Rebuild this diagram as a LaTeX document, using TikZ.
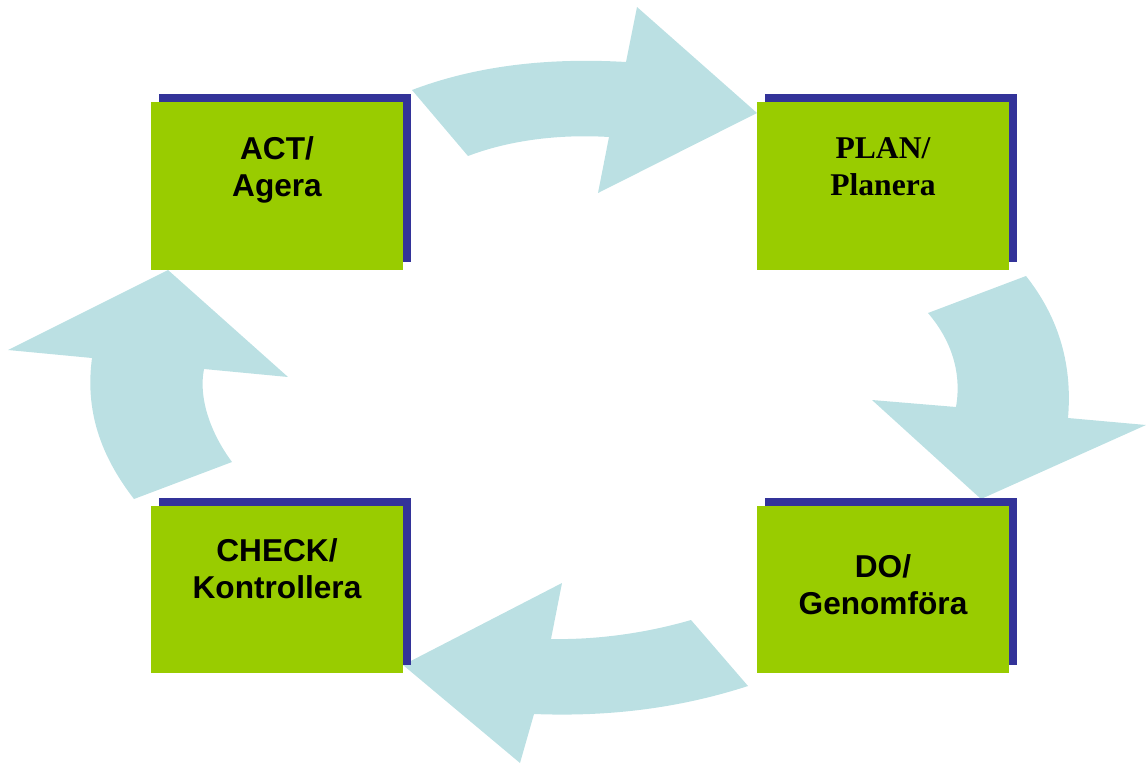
\documentclass[tikz,border=0pt]{standalone}
\usepackage{fontspec}
\setmainfont{Liberation Sans}
\newfontfamily\serifbold{Liberation Serif}
\usepackage{xcolor}
\usetikzlibrary{positioning, shadows}

\definecolor{leafgreen}{RGB}{153,204,0}
\definecolor{shadowblue}{RGB}{51,51,153}
\definecolor{cyclecyan}{RGB}{187,224,227}

\begin{document}
\begin{tikzpicture}[x=0.02cm, y=-0.02cm,
        phase/.style={rectangle, fill=leafgreen, minimum width=5.04cm, minimum height=3.36cm, inner sep=0pt,
            general shadow={fill=shadowblue, shadow xshift=0.16cm, shadow yshift=0.16cm}},
        lbl/.style={align=center, inner sep=0pt, font=\fontsize{18}{21}\selectfont\bfseries},
        turn/.style={fill=cyclecyan, draw=none}]
        \useasboundingbox (0,0) rectangle (1146,764);
        \fill[turn] (412,90) .. controls (470,68) and (540,57) .. (626,62) -- (637,7) -- (757,113) -- (598,193) -- (609,137)
            .. controls (560,134) and (510,140) .. (468,156) -- cycle;
        \fill[turn] (1026,276) .. controls (1056,314) and (1073,360) .. (1068,418) -- (1146,425) -- (981,499) -- (872,400) -- (956,407)
            .. controls (962,372) and (951,340) .. (928,313) -- cycle;
        \fill[turn] (748,686) .. controls (680,708) and (610,717) .. (534,714) -- (520,763) -- (403,665) -- (562,583) -- (551,639)
            .. controls (600,640) and (650,632) .. (691,620) -- cycle;
        \fill[turn] (134,499) .. controls (100,455) and (85,410) .. (92,358) -- (8,350) -- (168,270) -- (288,377) -- (204,369)
            .. controls (198,400) and (212,435) .. (232,462) -- cycle;
        \node[phase] (act) at (277,186) {};
        \node[phase] (plan) at (883,186) {};
        \node[phase] (check) at (277,589.5) {};
        \node[phase] (do) at (883,589.5) {};
        \node[lbl, below=0.7cm of act.north] (actlbl) {ACT/\\Agera};
        \node[lbl, below=0.72cm of plan.north, font=\fontsize{18}{21}\selectfont\serifbold\bfseries] (planlbl) {PLAN/\\Planera};
        \node[lbl, below=0.66cm of check.north] (checklbl) {CHECK/\\Kontrollera};
        \node[lbl, below=0.98cm of do.north] (dolbl) {DO/\\Genomföra};
\end{tikzpicture}
\end{document}
